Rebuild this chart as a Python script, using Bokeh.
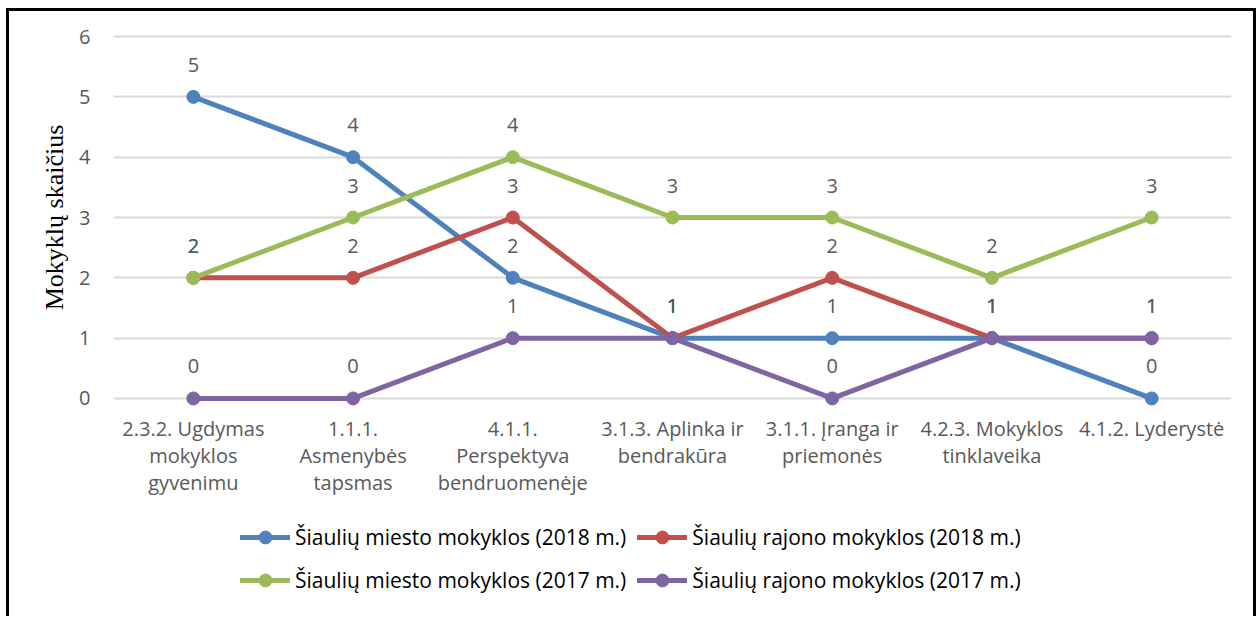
from bokeh.plotting import figure
from bokeh.layouts import column
from bokeh.models import (Legend, LegendItem, FixedTicker, Range1d,
                          ColumnDataSource)
from bokeh.core.properties import value
from bokeh.embed import file_html
from bokeh.resources import INLINE

categories = ["2.3.2. Ugdymas\nmokyklos\ngyvenimu",
              "1.1.1.\nAsmenybės\ntapsmas",
              "4.1.1.\nPerspektyva\nbendruomenėje",
              "3.1.3. Aplinka ir\nbendrakūra",
              "3.1.1. Įranga ir\npriemonės",
              "4.2.3. Mokyklos\ntinklaveika",
              "4.1.2. Lyderystė"]
series_names = ["Šiaulių miesto mokyklos (2018 m.)",
                "Šiaulių rajono mokyklos (2018 m.)",
                "Šiaulių miesto mokyklos (2017 m.)",
                "Šiaulių rajono mokyklos (2017 m.)"]
miesto_2018 = [5, 4, 2, 1, 1, 1, 0]
rajono_2018 = [2, 2, 3, 1, 2, 1, 1]
miesto_2017 = [2, 3, 4, 3, 3, 2, 3]
rajono_2017 = [0, 0, 1, 1, 0, 1, 1]
y_ticks = [0, 1, 2, 3, 4, 5, 6]
y_title = "Mokyklų skaičius"

colors = ["#4F81BD", "#C0504D", "#9BBB59", "#8064A2"]
FONT = "Open Sans"
FS = "20px"
GRAY = "#595959"
all_series = [miesto_2018, rajono_2018, miesto_2017, rajono_2017]

# ---- main chart ----
p = figure(frame_width=1112, frame_height=383, output_backend="svg",
           toolbar_location=None,
           x_range=Range1d(-0.5, 6.5), y_range=Range1d(-0.2, 6.2),
           min_border_left=104, min_border_right=28, min_border_top=13,
           min_border_bottom=109)
p.styles = {"border-top": "3px solid black", "border-left": "3px solid black",
            "border-right": "3px solid black"}
p.outline_line_color = None

xs = list(range(len(categories)))
sources = []
for vals, col in zip(all_series, colors):
    src = ColumnDataSource(dict(x=xs, y=vals, t=[str(v) for v in vals]))
    sources.append(src)
    p.line("x", "y", source=src, line_color=col, line_width=5,
           line_join="round", line_cap="round")
    p.scatter("x", "y", source=src, size=13, fill_color=col, line_color=col)

for src in sources:
    p.text("x", "y", text="t", source=src, y_offset=-32,
           text_align="center", text_baseline="middle",
           text_font=value(FONT), text_font_size=FS, text_color=GRAY)

p.xaxis.ticker = FixedTicker(ticks=xs)
p.xaxis.major_label_overrides = {i: c for i, c in enumerate(categories)}
p.yaxis.ticker = FixedTicker(ticks=y_ticks)
for ax in (p.xaxis[0], p.yaxis[0]):
    ax.axis_line_color = None
    ax.major_tick_line_color = None
    ax.minor_tick_line_color = None
    ax.major_tick_out = 0
    ax.major_tick_in = 0
    ax.minor_tick_out = 0
    ax.major_label_text_font = FONT
    ax.major_label_text_font_size = FS
    ax.major_label_text_color = GRAY
p.xaxis.major_label_standoff = 4
p.xaxis.major_label_text_line_height = 1.0
p.yaxis.major_label_standoff = 23
p.yaxis.axis_label = y_title
p.yaxis.axis_label_text_font = "Liberation Serif"
p.yaxis.axis_label_text_font_style = "normal"
p.yaxis.axis_label_text_font_size = "26px"
p.yaxis.axis_label_text_color = "black"
p.yaxis.axis_label_standoff = 7

p.xgrid.grid_line_color = None
p.ygrid.grid_line_color = "#D9D9D9"
p.ygrid.grid_line_width = 2
p.ygrid.ticker = FixedTicker(ticks=y_ticks)

# ---- legend strip ----
q = figure(frame_width=1244, frame_height=100, output_backend="svg",
           toolbar_location=None, x_axis_location=None, y_axis_location=None,
           x_range=Range1d(100, 101), y_range=Range1d(100, 101),
           min_border=0)
q.styles = {"border-left": "3px solid black", "border-right": "3px solid black"}
q.outline_line_color = None
q.grid.visible = False
items = []
for src, col, name in zip(sources, colors, series_names):
    l = q.line("x", "y", source=src, line_color=col, line_width=5, line_cap="round")
    s = q.scatter("x", "y", source=src, size=13, fill_color=col, line_color=col)
    items.append(LegendItem(label=name, renderers=[l, s]))
# legend fills column by column: order so rows read (2018 pair), (2017 pair)
items = [items[0], items[2], items[1], items[3]]

legend = Legend(items=items, ncols=2, location=(231, 20),
                label_text_font=FONT, label_text_font_size="21px",
                label_text_color="black", glyph_width=50, glyph_height=32,
                label_height=22, label_standoff=5, spacing=11,
                border_line_color=None, background_fill_alpha=0,
                padding=0, margin=0)
q.add_layout(legend, "center")

lay = column(p, q, spacing=0)
lay.styles = {"margin-left": "6px", "margin-top": "8px"}

open("out.html", "w").write(file_html(lay, INLINE))
